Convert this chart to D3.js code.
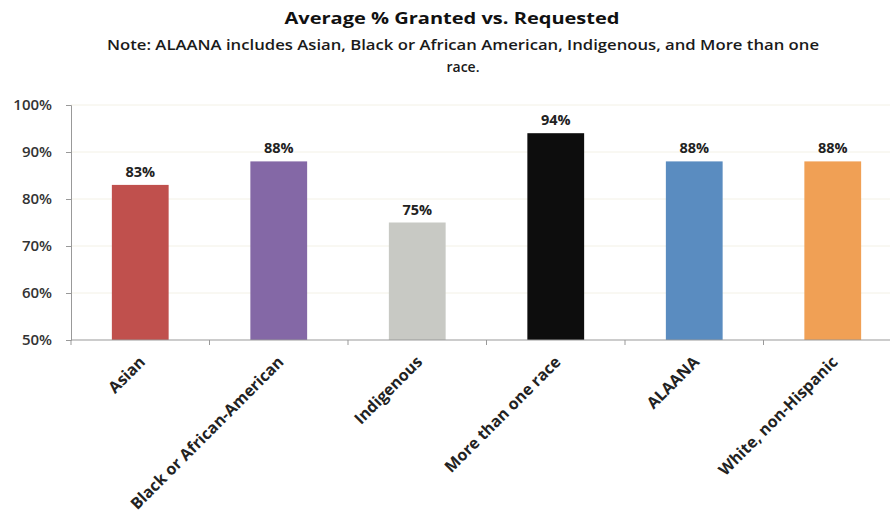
<!DOCTYPE html>
<html><head><meta charset="utf-8">
<script src="https://cdn.jsdelivr.net/npm/d3@7"></script>
<style>body{margin:0;background:#fff;} svg{display:block;}</style>
</head><body>
<svg id="c" width="890" height="519"></svg>
<script>
const categories = ["Asian","Black or African-American","Indigenous","More than one race","ALAANA","White, non-Hispanic"];
const values = [83, 88, 75, 94, 88, 88];
const barColors = ["#c0504d","#8468a6","#c8c9c4","#0d0d0d","#5a8cc0","#f0a055"];
const yTicks = [50,60,70,80,90,100];
const title = "Average % Granted vs. Requested";
const note1 = "Note: ALAANA includes Asian, Black or African American, Indigenous, and More than one";
const note2 = "race.";

const svg = d3.select("#c");
const font = "'Open Sans', 'Liberation Sans', sans-serif";
const x = d3.scaleBand().domain(categories).range([71, 902]).paddingInner(0.59).paddingOuter(0.295);
const y = d3.scaleLinear().domain([50,100]).range([340,105]);

// titles
svg.append("text").attr("x",452).attr("y",24).attr("text-anchor","middle")
  .attr("font-family",font).attr("font-weight","bold").attr("font-size",16).attr("fill","#111")
  .attr("textLength",335).attr("lengthAdjust","spacingAndGlyphs").text(title);
svg.append("text").attr("x",463).attr("y",50).attr("text-anchor","middle")
  .attr("font-family",font).attr("font-weight","600").attr("font-size",14).attr("fill","#1a1a1a")
  .attr("textLength",712).attr("lengthAdjust","spacingAndGlyphs").text(note1);
svg.append("text").attr("x",463).attr("y",72).attr("text-anchor","middle")
  .attr("font-family",font).attr("font-weight","600").attr("font-size",14).attr("fill","#1a1a1a").text(note2);

// gridlines
svg.append("g").selectAll("line").data(yTicks.filter(d=>d>50)).join("line")
  .attr("x1",71).attr("x2",902).attr("y1",d=>y(d)).attr("y2",d=>y(d))
  .attr("stroke","#f3f1e6").attr("stroke-width",1);

// y axis
const ya = svg.append("g").attr("transform","translate(71,0)")
  .call(d3.axisLeft(y).tickValues(yTicks).tickSize(5).tickPadding(14).tickFormat(d=>d+"%"));
ya.select(".domain").attr("stroke","#999");
ya.selectAll(".tick line").attr("stroke","#999");
ya.selectAll("text").attr("font-family",font).attr("font-size",15).attr("fill","#333").attr("font-weight","600");

// bars
svg.append("g").selectAll("rect").data(categories).join("rect")
  .attr("x",d=>x(d)).attr("width",x.bandwidth())
  .attr("y",(d,i)=>y(values[i])).attr("height",(d,i)=>y(50)-y(values[i]))
  .attr("fill",(d,i)=>barColors[i]);

// value labels
svg.append("g").selectAll("text").data(categories).join("text")
  .attr("x",d=>x(d)+x.bandwidth()/2).attr("y",(d,i)=>y(values[i])-8)
  .attr("text-anchor","middle").attr("font-family",font).attr("font-weight","bold")
  .attr("font-size",14.5).attr("fill","#222").text((d,i)=>values[i]+"%");

// x axis
svg.append("line").attr("x1",71).attr("x2",902).attr("y1",y(50)).attr("y2",y(50)).attr("stroke","#999");
const bounds = d3.range(categories.length+1).map(i=>71 + i*x.step());
svg.append("g").selectAll("line").data(bounds).join("line")
  .attr("x1",d=>d).attr("x2",d=>d).attr("y1",y(50)).attr("y2",y(50)+5).attr("stroke","#999");

svg.append("g").selectAll("text").data(categories).join("text")
  .attr("transform",d=>`translate(${x(d)+x.bandwidth()/2+6},${y(50)+23}) rotate(-45)`)
  .attr("text-anchor","end").attr("font-family",font).attr("font-weight","bold")
  .attr("font-size",16).attr("fill","#222").text(d=>d);
</script>
</body></html>
